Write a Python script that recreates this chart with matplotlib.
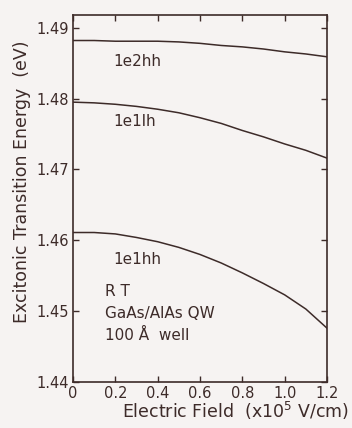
import matplotlib.pyplot as plt

field = [0.0, 0.1, 0.2, 0.3, 0.4, 0.5, 0.6, 0.7, 0.8, 0.9, 1.0, 1.1, 1.2]
e2hh = [1.4882, 1.4882, 1.4881, 1.4881, 1.4881, 1.4880, 1.4878,
        1.4875, 1.4873, 1.4870, 1.4866, 1.4863, 1.4859]
e1lh = [1.4795, 1.4794, 1.4792, 1.4789, 1.4785, 1.4780, 1.4773,
        1.4765, 1.4755, 1.4746, 1.4736, 1.4727, 1.4716]
e1hh = [1.4611, 1.4611, 1.4609, 1.4604, 1.4598, 1.4590, 1.4580,
        1.4568, 1.4554, 1.4539, 1.4523, 1.4503, 1.4476]
xticks = [0.0, 0.2, 0.4, 0.6, 0.8, 1.0, 1.2]
xtick_labels = ["0", "0.2", "0.4", "0.6", "0.8", "1.0", "1.2"]
yticks = [1.44, 1.45, 1.46, 1.47, 1.48, 1.49]

ink = "#3d2b29"
paper = "#f6f3f2"

fig = plt.figure(figsize=(3.52, 4.28), dpi=100, facecolor=paper)
ax = fig.add_axes([73 / 352, 1 - 382 / 428, 254 / 352, 367 / 428], facecolor=paper)

for ys in (e2hh, e1lh, e1hh):
    ax.plot(field, ys, color=ink, lw=1.1)

ax.set_xlim(0, 1.2)
ax.set_ylim(1.44, 1.4918)
ax.set_xticks(xticks)
ax.set_xticklabels(xtick_labels)
ax.set_yticks(yticks)
ax.set_yticklabels([f"{v:.2f}" for v in yticks])
ax.tick_params(direction="in", length=4, width=1, colors=ink, labelsize=10.5,
               top=True, right=True, pad=3)
for s in ax.spines.values():
    s.set_color(ink)
    s.set_linewidth(1.2)

kw = dict(color=ink, fontsize=11, va="center")
ax.text(0.19, 1.4852, "1e2hh", **kw)
ax.text(0.19, 1.4767, "1e1lh", **kw)
ax.text(0.19, 1.4573, "1e1hh", **kw)
ax.text(0.15, 1.4528, "R T", **kw)
ax.text(0.15, 1.4496, "GaAs/AlAs QW", **kw)
ax.text(0.15, 1.4466, "100 Å  well", **kw)

ax.set_xlabel("Electric Field  (x10$^5$ V/cm)", color=ink, fontsize=12.5, labelpad=2)
ax.xaxis.set_label_coords(0.64, -0.05)
ax.set_ylabel("Excitonic Transition Energy  (eV)", color=ink, fontsize=12.5, labelpad=3)
ax.yaxis.set_label_coords(-0.165, 0.545)

fig.savefig("out.png", dpi=100, facecolor=paper)
